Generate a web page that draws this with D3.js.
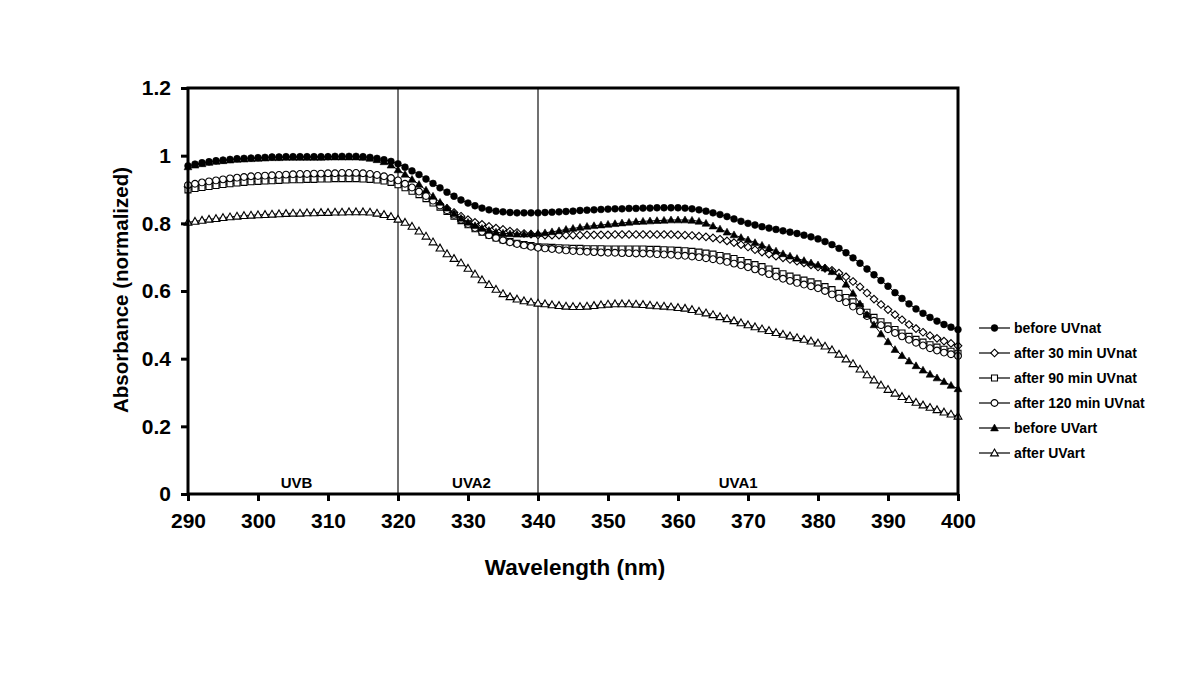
<!DOCTYPE html>
<html>
<head>
<meta charset="utf-8">
<script src="https://d3js.org/d3.v7.min.js"></script>
<style>
  body { margin: 0; background: #fff; }
  svg { display: block; font-family: Arial, "Liberation Sans", sans-serif; }
</style>
</head>
<body>
<svg id="chart"></svg>
<script>
// wavelength (nm), one reading per nm
const wavelengths = d3.range(290, 401);

const beforeUVnat = [
  0.970, 0.975, 0.979, 0.982, 0.985, 0.987, 0.989, 0.991, 0.992, 0.993,
  0.994, 0.995, 0.996, 0.996, 0.997, 0.997, 0.997, 0.997, 0.997, 0.997,
  0.997, 0.998, 0.998, 0.998, 0.998, 0.997, 0.995, 0.992, 0.988, 0.983,
  0.976, 0.966, 0.955, 0.944, 0.931, 0.918, 0.905, 0.892, 0.880, 0.869,
  0.860, 0.852, 0.845, 0.840, 0.836, 0.834, 0.832, 0.831, 0.831, 0.831,
  0.831, 0.832, 0.833, 0.834, 0.835, 0.836, 0.838, 0.839, 0.840, 0.841,
  0.842, 0.843, 0.843, 0.844, 0.844, 0.845, 0.845, 0.846, 0.846, 0.846,
  0.846, 0.845, 0.843, 0.840, 0.836, 0.831, 0.826, 0.820, 0.813, 0.806,
  0.800, 0.795, 0.790, 0.786, 0.782, 0.778, 0.774, 0.770, 0.765, 0.760,
  0.754, 0.746, 0.737, 0.726, 0.713, 0.698, 0.682, 0.665, 0.648, 0.631,
  0.614, 0.595, 0.578, 0.562, 0.547, 0.534, 0.522, 0.511, 0.501, 0.493,
  0.486
];

const after30 = [
  0.908, 0.912, 0.916, 0.919, 0.922, 0.925, 0.928, 0.930, 0.932, 0.934,
  0.936, 0.937, 0.938, 0.939, 0.940, 0.940, 0.941, 0.941, 0.942, 0.942,
  0.943, 0.943, 0.943, 0.944, 0.944, 0.943, 0.941, 0.938, 0.934, 0.929,
  0.922, 0.913, 0.903, 0.892, 0.880, 0.868, 0.856, 0.844, 0.832, 0.821,
  0.811, 0.803, 0.797, 0.791, 0.786, 0.782, 0.777, 0.773, 0.770, 0.768,
  0.766, 0.765, 0.765, 0.765, 0.765, 0.765, 0.765, 0.766, 0.766, 0.766,
  0.766, 0.767, 0.767, 0.767, 0.767, 0.767, 0.767, 0.767, 0.767, 0.767,
  0.766, 0.765, 0.764, 0.762, 0.760, 0.757, 0.753, 0.748, 0.743, 0.737,
  0.730, 0.722, 0.715, 0.709, 0.703, 0.698, 0.693, 0.688, 0.683, 0.677,
  0.671, 0.667, 0.661, 0.653, 0.642, 0.628, 0.612, 0.594, 0.576, 0.560,
  0.545, 0.530, 0.515, 0.501, 0.489, 0.478, 0.468, 0.460, 0.452, 0.445,
  0.438
];

const after90 = [
  0.899, 0.903, 0.906, 0.909, 0.912, 0.915, 0.917, 0.919, 0.921, 0.923,
  0.924, 0.925, 0.926, 0.927, 0.928, 0.929, 0.929, 0.930, 0.930, 0.931,
  0.931, 0.932, 0.932, 0.932, 0.932, 0.931, 0.930, 0.928, 0.925, 0.921,
  0.914, 0.905, 0.895, 0.885, 0.873, 0.860, 0.848, 0.835, 0.821, 0.808,
  0.796, 0.784, 0.774, 0.765, 0.757, 0.751, 0.746, 0.741, 0.737, 0.734,
  0.731, 0.730, 0.729, 0.728, 0.727, 0.726, 0.726, 0.725, 0.725, 0.725,
  0.724, 0.724, 0.724, 0.724, 0.724, 0.724, 0.723, 0.723, 0.722, 0.721,
  0.720, 0.719, 0.717, 0.715, 0.712, 0.709, 0.705, 0.701, 0.696, 0.690,
  0.684, 0.678, 0.672, 0.665, 0.658, 0.651, 0.644, 0.638, 0.632, 0.627,
  0.621, 0.613, 0.604, 0.593, 0.581, 0.568, 0.553, 0.537, 0.522, 0.509,
  0.497, 0.486, 0.476, 0.466, 0.457, 0.449, 0.441, 0.434, 0.428, 0.422,
  0.416
];

const after120 = [
  0.913, 0.917, 0.921, 0.924, 0.927, 0.930, 0.933, 0.935, 0.937, 0.939,
  0.940, 0.941, 0.942, 0.943, 0.944, 0.945, 0.946, 0.946, 0.947, 0.947,
  0.948, 0.948, 0.949, 0.949, 0.949, 0.948, 0.946, 0.943, 0.939, 0.934,
  0.927, 0.917, 0.906, 0.894, 0.881, 0.867, 0.853, 0.839, 0.825, 0.811,
  0.798, 0.786, 0.775, 0.765, 0.757, 0.750, 0.744, 0.739, 0.735, 0.731,
  0.728, 0.726, 0.724, 0.722, 0.720, 0.718, 0.717, 0.716, 0.715, 0.714,
  0.713, 0.713, 0.712, 0.712, 0.711, 0.711, 0.710, 0.709, 0.708, 0.707,
  0.705, 0.704, 0.702, 0.700, 0.697, 0.694, 0.690, 0.686, 0.681, 0.676,
  0.670, 0.664, 0.657, 0.650, 0.643, 0.636, 0.630, 0.624, 0.619, 0.614,
  0.608, 0.600, 0.590, 0.579, 0.567, 0.554, 0.540, 0.526, 0.512, 0.499,
  0.487, 0.476, 0.466, 0.456, 0.447, 0.439, 0.431, 0.424, 0.418, 0.413,
  0.408
];

const beforeUVart = [
  0.967, 0.972, 0.976, 0.980, 0.983, 0.985, 0.987, 0.989, 0.990, 0.991,
  0.992, 0.993, 0.994, 0.994, 0.995, 0.995, 0.995, 0.995, 0.995, 0.995,
  0.996, 0.996, 0.996, 0.996, 0.996, 0.995, 0.992, 0.988, 0.982, 0.972,
  0.958, 0.945, 0.930, 0.915, 0.898, 0.880, 0.862, 0.845, 0.829, 0.815,
  0.803, 0.793, 0.785, 0.779, 0.774, 0.771, 0.769, 0.768, 0.768, 0.769,
  0.770, 0.772, 0.775, 0.778, 0.782, 0.785, 0.788, 0.791, 0.793, 0.795,
  0.797, 0.799, 0.801, 0.803, 0.805, 0.806, 0.807, 0.808, 0.809, 0.810,
  0.810, 0.810, 0.809, 0.806, 0.800, 0.792, 0.783, 0.774, 0.766, 0.758,
  0.751, 0.743, 0.735, 0.727, 0.718, 0.710, 0.703, 0.696, 0.690, 0.683,
  0.677, 0.668, 0.657, 0.642, 0.620, 0.593, 0.562, 0.530, 0.500, 0.473,
  0.450, 0.427, 0.409, 0.393, 0.379, 0.366, 0.354, 0.343, 0.332, 0.321,
  0.311
];

const afterUVart = [
  0.803, 0.806, 0.809, 0.812, 0.814, 0.817, 0.819, 0.821, 0.823, 0.824,
  0.825, 0.826, 0.827, 0.828, 0.829, 0.830, 0.830, 0.831, 0.831, 0.832,
  0.832, 0.833, 0.833, 0.834, 0.834, 0.834, 0.833, 0.830, 0.826, 0.820,
  0.812, 0.803, 0.791, 0.777, 0.762, 0.745, 0.727, 0.710, 0.696, 0.683,
  0.667, 0.650, 0.633, 0.619, 0.605, 0.592, 0.583, 0.576, 0.571, 0.567,
  0.564, 0.562, 0.559, 0.557, 0.555, 0.554, 0.554, 0.555, 0.557, 0.559,
  0.561, 0.562, 0.562, 0.562, 0.561, 0.560, 0.558, 0.556, 0.555, 0.553,
  0.551, 0.549, 0.545, 0.540, 0.535, 0.530, 0.524, 0.518, 0.512, 0.506,
  0.500, 0.494, 0.488, 0.483, 0.477, 0.472, 0.467, 0.462, 0.457, 0.452,
  0.446, 0.437, 0.426, 0.413, 0.399, 0.385, 0.369, 0.352, 0.337, 0.322,
  0.309, 0.298, 0.288, 0.279, 0.271, 0.263, 0.256, 0.249, 0.242, 0.236,
  0.230
];

const seriesNames = ["before UVnat", "after 30 min UVnat", "after 90 min UVnat",
                     "after 120 min UVnat", "before UVart", "after UVart"];
const seriesValues = [beforeUVnat, after30, after90, after120, beforeUVart, afterUVart];
const seriesMarkers = ["circleFilled", "diamond", "square", "circle", "triangleFilled", "triangle"];

const bandLines = [320, 340];
const bandLabels = [{ text: "UVB", at: 305.5 }, { text: "UVA2", at: 330.5 }, { text: "UVA1", at: 368.6 }];
const xTicks = d3.range(290, 401, 10);
const yTicks = [0, 0.2, 0.4, 0.6, 0.8, 1, 1.2];

const width = 1200, height = 678;
const svg = d3.select("#chart").attr("width", width).attr("height", height);

const x = d3.scaleLinear().domain([290, 400]).range([188, 958]);
const y = d3.scaleLinear().domain([0, 1.2]).range([494, 88]);

// marker shapes, drawn around 0,0
function markerPath(kind) {
  const p = d3.path();
  if (kind.startsWith("circle")) {
    p.arc(0, 0, 3.4, 0, 2 * Math.PI);
  } else if (kind === "square") {
    p.rect(-3, -3, 6, 6);
  } else if (kind === "diamond") {
    p.moveTo(0, -3.8); p.lineTo(3.8, 0); p.lineTo(0, 3.8); p.lineTo(-3.8, 0); p.closePath();
  } else {
    p.moveTo(0, -3.9); p.lineTo(3.9, 2.9); p.lineTo(-3.9, 2.9); p.closePath();
  }
  return p.toString();
}
function styleMarker(sel, kind) {
  const filled = kind.endsWith("Filled");
  sel.attr("d", markerPath(kind))
    .attr("fill", filled ? "#000" : "#fff")
    .attr("stroke", "#000")
    .attr("stroke-width", filled ? 0.6 : 1.1);
}

// band separators
svg.append("g").selectAll("line")
  .data(bandLines)
  .join("line")
  .attr("x1", d => x(d)).attr("x2", d => x(d))
  .attr("y1", y(1.2)).attr("y2", y(0))
  .attr("stroke", "#111")
  .attr("stroke-width", 1.2);

svg.append("g").selectAll("text")
  .data(bandLabels)
  .join("text")
  .attr("x", d => x(d.at))
  .attr("y", 488)
  .attr("text-anchor", "middle")
  .attr("font-size", 15)
  .attr("font-weight", "bold")
  .text(d => d.text);

// series
const line = d3.line().x((d, i) => x(wavelengths[i])).y(d => y(d));
seriesValues.forEach((vals, si) => {
  const g = svg.append("g");
  g.append("path")
    .attr("d", line(vals))
    .attr("fill", "none")
    .attr("stroke", "#000")
    .attr("stroke-width", 1);
  g.selectAll("path.m")
    .data(vals)
    .join("path")
    .attr("class", "m")
    .attr("transform", (d, i) => `translate(${x(wavelengths[i])},${y(d)})`)
    .call(styleMarker, seriesMarkers[si]);
});

// axes
const xAxis = svg.append("g")
  .attr("transform", `translate(0,${y(0)})`)
  .call(d3.axisBottom(x).tickValues(xTicks).tickSize(7).tickPadding(12).tickFormat(d3.format("d")));
const yAxis = svg.append("g")
  .attr("transform", `translate(${x(290)},0)`)
  .call(d3.axisLeft(y).tickValues(yTicks).tickSize(7).tickPadding(10).tickFormat(d => d3.format("")(d)));
[xAxis, yAxis].forEach(a => {
  a.select(".domain").remove();
  a.selectAll(".tick line").attr("stroke", "#000").attr("stroke-width", 3);
  a.selectAll(".tick text")
    .attr("font-size", 21)
    .attr("font-weight", "bold")
    .attr("font-family", "Arial, 'Liberation Sans', sans-serif")
    .attr("fill", "#000");
});

// plot frame
svg.append("rect")
  .attr("x", x(290)).attr("y", y(1.2))
  .attr("width", x(400) - x(290)).attr("height", y(0) - y(1.2))
  .attr("fill", "none")
  .attr("stroke", "#000")
  .attr("stroke-width", 3);

// axis titles
svg.append("text")
  .attr("x", 575).attr("y", 575)
  .attr("text-anchor", "middle")
  .attr("font-size", 22.5).attr("font-weight", "bold")
  .text("Wavelength (nm)");
svg.append("text")
  .attr("transform", "translate(128,290) rotate(-90)")
  .attr("text-anchor", "middle")
  .attr("font-size", 20.5).attr("font-weight", "bold")
  .text("Absorbance (normalized)");

// legend
const legend = svg.append("g").attr("transform", "translate(979,328)");
const rows = legend.selectAll("g")
  .data(seriesNames)
  .join("g")
  .attr("transform", (d, i) => `translate(0,${i * 25})`);
rows.append("line")
  .attr("x1", 0).attr("x2", 31)
  .attr("stroke", "#000").attr("stroke-width", 1.2);
rows.append("path")
  .attr("transform", "translate(15.5,0)")
  .each(function (d, i) { d3.select(this).call(styleMarker, seriesMarkers[i]); });
rows.append("text")
  .attr("x", 35).attr("y", 5)
  .attr("font-size", 14).attr("font-weight", "bold")
  .text(d => d);
</script>
</body>
</html>
